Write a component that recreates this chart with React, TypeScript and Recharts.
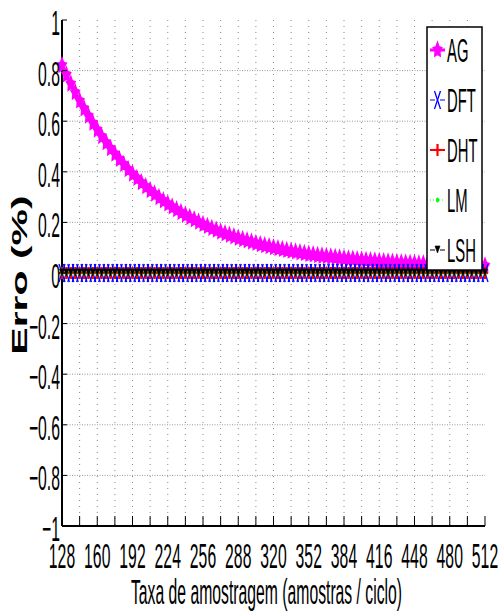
import React from 'react';
import { LineChart, Line, XAxis, YAxis, CartesianGrid, Legend } from 'recharts';

// taxa de amostragem (amostras / ciclo)
const TAXA = [
  128, 132, 136, 140, 144, 148, 152, 156, 160, 164, 168, 172, 176, 180, 184, 188,
  192, 196, 200, 204, 208, 212, 216, 220, 224, 228, 232, 236, 240, 244, 248, 252,
  256, 260, 264, 268, 272, 276, 280, 284, 288, 292, 296, 300, 304, 308, 312, 316,
  320, 324, 328, 332, 336, 340, 344, 348, 352, 356, 360, 364, 368, 372, 376, 380,
  384, 388, 392, 396, 400, 404, 408, 412, 416, 420, 424, 428, 432, 436, 440, 444,
  448, 452, 456, 460, 464, 468, 472, 476, 480, 484, 488, 492, 496, 500, 504, 508,
  512,
];

// erro (%) por metodo
const AG = [
  0.82, 0.783, 0.747, 0.713, 0.68, 0.649, 0.62, 0.592, 0.565, 0.539, 0.515, 0.492, 0.47, 0.449, 0.429, 0.409,
  0.391, 0.374, 0.357, 0.341, 0.326, 0.312, 0.298, 0.285, 0.273, 0.261, 0.25, 0.239, 0.229, 0.219, 0.21, 0.201,
  0.192, 0.184, 0.176, 0.169, 0.162, 0.155, 0.149, 0.143, 0.137, 0.132, 0.127, 0.122, 0.117, 0.112, 0.108, 0.104,
  0.1, 0.096, 0.093, 0.089, 0.086, 0.083, 0.08, 0.077, 0.074, 0.072, 0.069, 0.067, 0.065, 0.063, 0.061, 0.059,
  0.057, 0.055, 0.054, 0.052, 0.051, 0.049, 0.048, 0.047, 0.045, 0.044, 0.043, 0.042, 0.041, 0.04, 0.039, 0.038,
  0.037, 0.036, 0.036, 0.035, 0.034, 0.034, 0.033, 0.032, 0.032, 0.031, 0.031, 0.03, 0.03, 0.029, 0.029, 0.028,
  0.028,
];

const ZERO = [
  0, 0, 0, 0, 0, 0, 0, 0, 0, 0, 0, 0, 0, 0, 0, 0,
  0, 0, 0, 0, 0, 0, 0, 0, 0, 0, 0, 0, 0, 0, 0, 0,
  0, 0, 0, 0, 0, 0, 0, 0, 0, 0, 0, 0, 0, 0, 0, 0,
  0, 0, 0, 0, 0, 0, 0, 0, 0, 0, 0, 0, 0, 0, 0, 0,
  0, 0, 0, 0, 0, 0, 0, 0, 0, 0, 0, 0, 0, 0, 0, 0,
  0, 0, 0, 0, 0, 0, 0, 0, 0, 0, 0, 0, 0, 0, 0, 0,
  0,
];
const DFT = ZERO;
const DHT = ZERO;
const LM = ZERO;
const LSH = ZERO;

const SERIES = ['AG', 'DFT', 'DHT', 'LM', 'LSH'];

const X_TICKS = [128, 144, 160, 176, 192, 208, 224, 240, 256, 272, 288, 304, 320, 336, 352, 368, 384, 400, 416, 432, 448, 464, 480, 496, 512];
const X_LABELS = [128, 160, 192, 224, 256, 288, 320, 352, 384, 416, 448, 480, 512];
const Y_TICKS = [-1, -0.8, -0.6, -0.4, -0.2, 0, 0.2, 0.4, 0.6, 0.8, 1];

const data = TAXA.map((t, i) => ({ taxa: t, AG: AG[i], DFT: DFT[i], DHT: DHT[i], LM: LM[i], LSH: LSH[i] }));

const FONT = '"Liberation Sans", Arial, Helvetica, sans-serif';
const SX = 0.45; // the figure is squeezed horizontally
const FS = 35;

const fmtY = (v: number) => (v < 0 ? '\u2212' + String(-v) : String(v));

function starPoints(cx: number, cy: number, r: number) {
  const pts: string[] = [];
  for (let k = 0; k < 10; k++) {
    const a = (-90 + k * 36) * Math.PI / 180;
    const rr = k % 2 === 0 ? r : r * 0.55;
    pts.push(`${cx + rr * Math.cos(a) * 0.6},${cy + rr * Math.sin(a)}`);
  }
  return pts.join(' ');
}

function Marker({ name, cx, cy }: { name: string; cx: number; cy: number }) {
  switch (name) {
    case 'AG':
      return <polygon points={starPoints(cx, cy, 7.5)} fill="#ff00ff" stroke="#ff00ff" strokeWidth={1.5} />;
    case 'DFT':
      return (
        <g stroke="#0000ff" strokeWidth={1.3}>
          <line x1={cx - 3} y1={cy - 9} x2={cx + 3} y2={cy + 9} />
          <line x1={cx - 3} y1={cy + 9} x2={cx + 3} y2={cy - 9} />
        </g>
      );
    case 'DHT':
      return (
        <g stroke="#ff0000" strokeWidth={2.2}>
          <line x1={cx} y1={cy - 6} x2={cx} y2={cy + 6} />
          <line x1={cx - 3} y1={cy} x2={cx + 3} y2={cy} />
        </g>
      );
    case 'LM':
      return <ellipse cx={cx} cy={cy} rx={1.6} ry={2.6} fill="#00ff00" />;
    default:
      return <polygon points={`${cx - 2.5},${cy - 4} ${cx + 2.5},${cy - 4} ${cx},${cy + 3}`} fill="#000" stroke="#000" strokeWidth={0.6} />;
  }
}

function BottomTick({ x, y, payload }: any) {
  const v = payload.value;
  return (
    <g>
      <line x1={x} x2={x} y1={y} y2={y - 10} stroke="#000" />
      {X_LABELS.includes(v) && (
        <text transform={`translate(${x},${y + 42}) scale(${SX},1)`} textAnchor="middle" fontSize={FS} fontFamily={FONT} fill="#000">
          {v}
        </text>
      )}
    </g>
  );
}

function TopTick({ x, y }: any) {
  return <line x1={x} x2={x} y1={y} y2={y + 10} stroke="#000" />;
}

function LeftTick({ x, y, payload }: any) {
  return (
    <g>
      <line x1={x} x2={x + 5} y1={y} y2={y} stroke="#000" />
      <text transform={`translate(${x - 2},${y + 15}) scale(${SX},1)`} textAnchor="end" fontSize={FS} fontFamily={FONT} fill="#000">
        {fmtY(payload.value)}
      </text>
    </g>
  );
}

function RightTick({ x, y }: any) {
  return <line x1={x} x2={x - 5} y1={y} y2={y} stroke="#000" />;
}

const LINE_STYLE: Record<string, { color: string; width: number; dash?: string }> = {
  AG: { color: '#ff00ff', width: 3 },
  DFT: { color: '#0000ff', width: 1, dash: '5 2 1 2' },
  DHT: { color: '#ff0000', width: 2 },
  LM: { color: '#00ff00', width: 1, dash: '1 2' },
  LSH: { color: '#000000', width: 1, dash: '5 2 1 2' },
};

function LegendBox() {
  return (
    <svg width={57} height={245} style={{ display: 'block' }}>
      <rect x={1} y={1} width={55} height={243} fill="#fff" stroke="#000" strokeWidth={1.5} />
      {SERIES.map((s, i) => {
        const cy = 24 + i * 50;
        return (
          <g key={s}>
            <line x1={4} x2={19} y1={cy} y2={cy} stroke={LINE_STYLE[s].color} strokeWidth={LINE_STYLE[s].width} strokeDasharray={LINE_STYLE[s].dash} />
            <Marker name={s} cx={11.5} cy={cy} />
            <text transform={`translate(21,${cy + 12}) scale(${SX},1)`} fontSize={33} fontFamily={FONT} fill="#000">
              {s}
            </text>
          </g>
        );
      })}
    </svg>
  );
}

export default function App() {
  return (
    <div style={{ position: 'absolute', left: 0, top: 0, width: 501, height: 612, background: '#fff' }}>
      <LineChart width={501} height={612} data={data} margin={{ top: 20, right: 16, bottom: 0, left: 0 }}>
        <CartesianGrid horizontal={false} vertical verticalValues={X_TICKS.slice(1, -1)} stroke="#888" strokeDasharray="1 5" />
        <CartesianGrid vertical={false} horizontal horizontalValues={Y_TICKS.slice(1, -1)} stroke="#999" strokeDasharray="1 1.5" />
        <XAxis
          dataKey="taxa"
          type="number"
          domain={[128, 512]}
          ticks={X_TICKS}
          interval={0}
          height={86}
          tickSize={0}
          tickMargin={0}
          tick={<BottomTick />}
          axisLine={{ stroke: '#000', strokeWidth: 2 }}
          label={{
            content: (p: any) => {
              const vb = p.viewBox || { x: 62, y: 526, width: 423 };
              return (
                <text transform={`translate(${vb.x + vb.width / 2 - 7},${vb.y + 78}) scale(${SX},1)`} textAnchor="middle" fontSize={FS} fontFamily={FONT} fill="#000">
                  Taxa de amostragem (amostras / ciclo)
                </text>
              );
            },
          }}
        />
        <XAxis
          xAxisId="top"
          orientation="top"
          dataKey="taxa"
          type="number"
          domain={[128, 512]}
          ticks={X_TICKS}
          interval={0}
          height={0}
          tickSize={0}
          tickMargin={0}
          tick={<TopTick />}
          axisLine={{ stroke: '#000', strokeWidth: 2 }}
        />
        <YAxis
          type="number"
          domain={[-1, 1]}
          ticks={Y_TICKS}
          interval={0}
          width={62}
          tickSize={0}
          tickMargin={0}
          tick={<LeftTick />}
          axisLine={{ stroke: '#000', strokeWidth: 2 }}
          label={{
            content: (p: any) => {
              const vb = p.viewBox || { x: 0, y: 20, width: 62, height: 506 };
              return (
                <text transform={`translate(27,${vb.y + vb.height / 2 + 2}) scale(0.55,1) rotate(-90)`} textAnchor="middle" fontSize={41} fontWeight="bold" fontFamily={FONT} fill="#000">
                  Erro (%)
                </text>
              );
            },
          }}
        />
        <YAxis
          yAxisId="right"
          orientation="right"
          type="number"
          domain={[-1, 1]}
          ticks={Y_TICKS}
          interval={0}
          width={0}
          tickSize={0}
          tickMargin={0}
          tick={<RightTick />}
          axisLine={{ stroke: '#000', strokeWidth: 2 }}
        />
        {SERIES.map((s) => (
          <Line
            key={s}
            dataKey={s}
            stroke={LINE_STYLE[s].color}
            strokeWidth={LINE_STYLE[s].width}
            strokeDasharray={LINE_STYLE[s].dash}
            isAnimationActive={false}
            dot={(p: any) => (
              <g key={`${s}-${p.index}`}>
                <Marker name={s} cx={p.cx} cy={p.cy} />
              </g>
            )}
            activeDot={false}
          />
        ))}
        <Legend
          layout="vertical"
          align="center"
          verticalAlign="middle"
          wrapperStyle={{ left: 426, top: 26, width: 57, height: 245 }}
          content={() => <LegendBox />}
        />
      </LineChart>
    </div>
  );
}
